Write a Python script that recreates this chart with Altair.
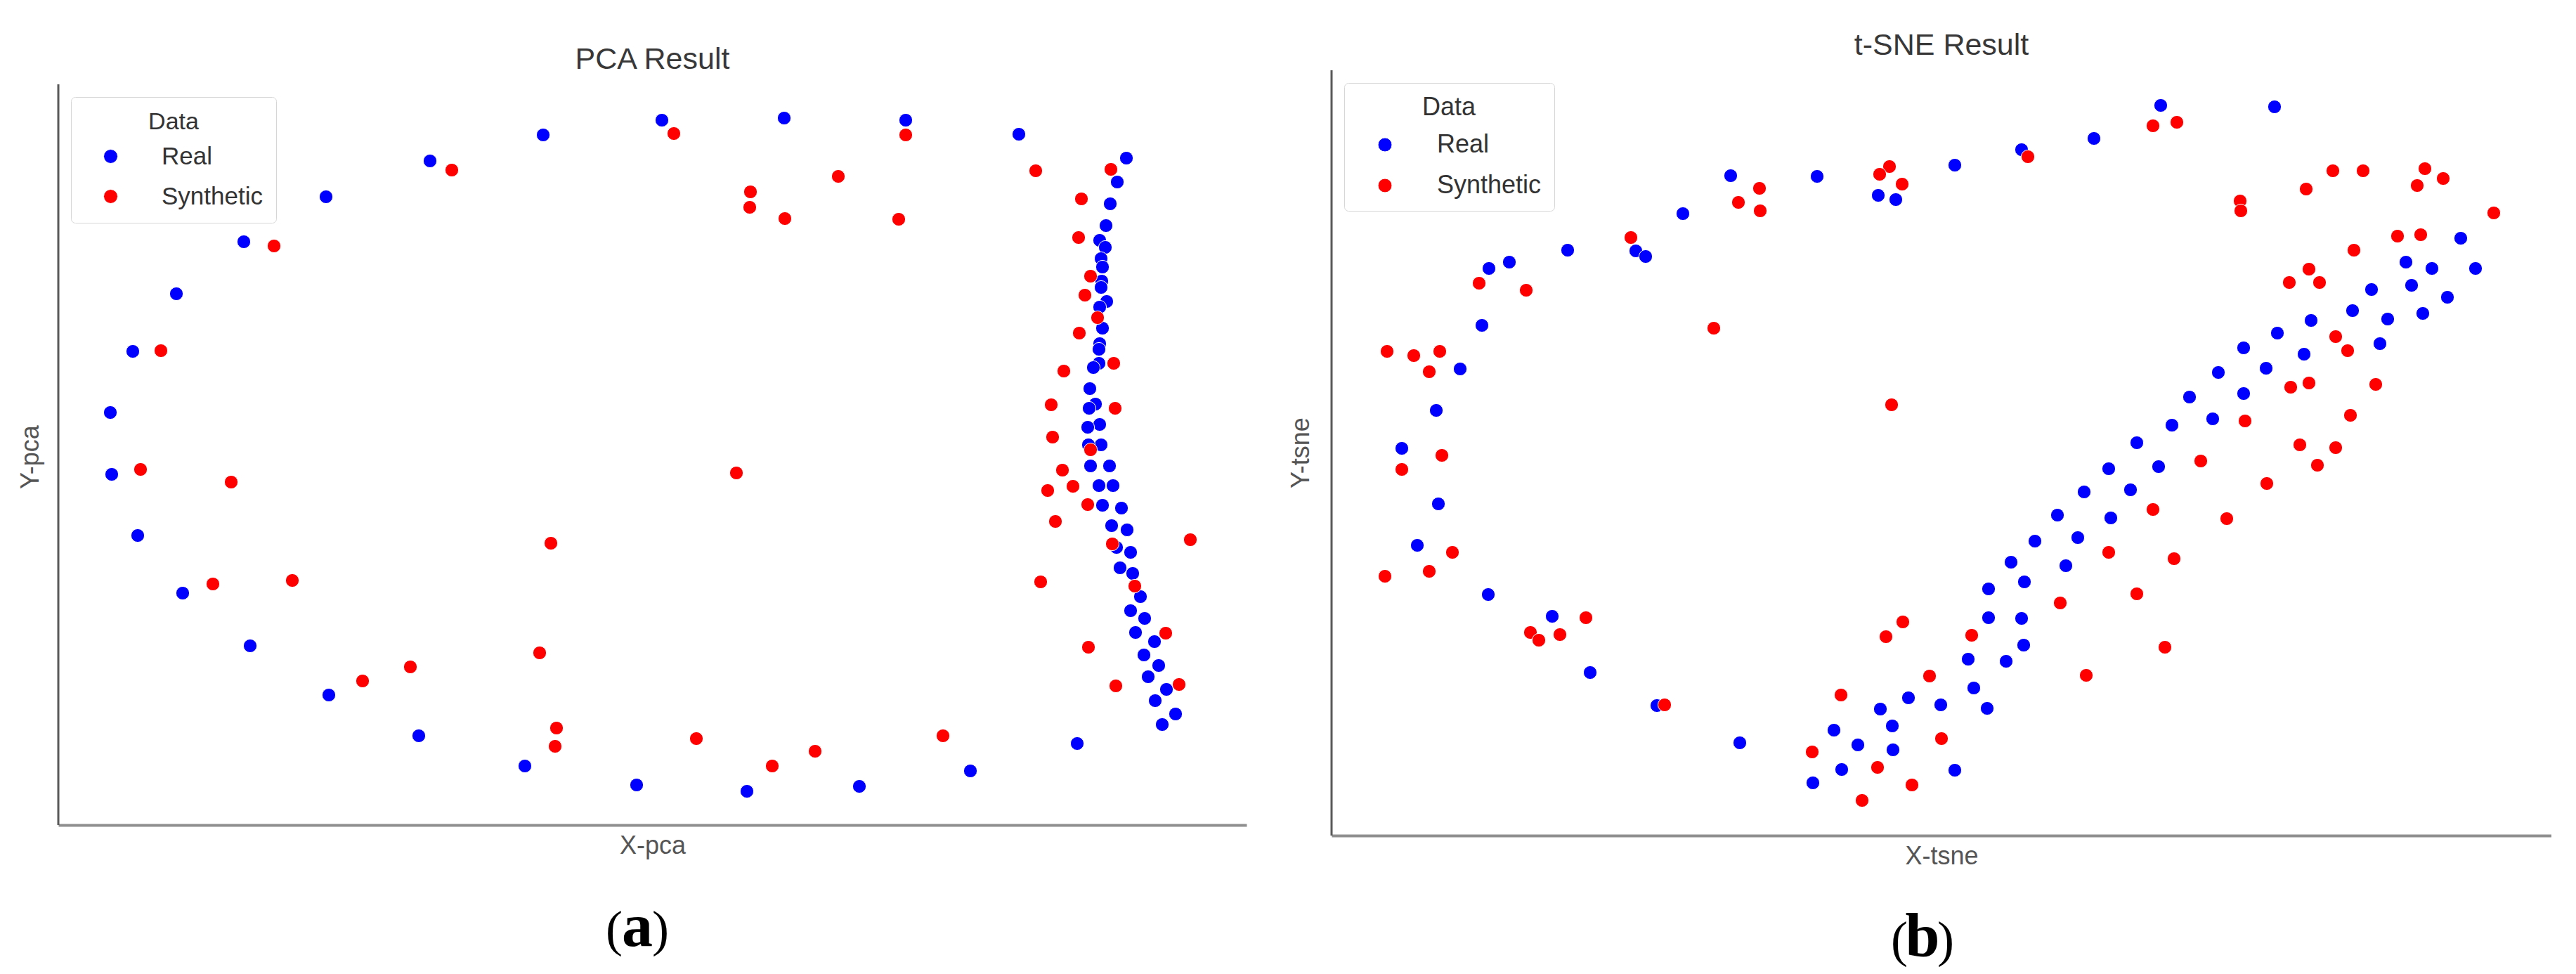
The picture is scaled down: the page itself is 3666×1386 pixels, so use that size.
import altair as alt
import pandas as pd

# ---------------- data (arbitrary units) ----------------
pca_real_x = [859, 690, 529, 381, 264, 168, 106, 74, 76, 113, 177, 273, 385, 513, 664, 823, 980, 1140, 1298, 1450,
              1033, 1206, 1367, 1520, 1507, 1497, 1491, 1482, 1490, 1484, 1486, 1485, 1484, 1492, 1482, 1486, 1482,
              1481, 1481, 1473, 1468, 1476, 1467, 1482, 1465, 1484, 1466, 1469, 1496, 1481, 1501, 1486, 1513, 1499,
              1521, 1506, 1526, 1511, 1529, 1540, 1526, 1546, 1533, 1560, 1545, 1566, 1551, 1577, 1561, 1590, 1571]
pca_real_y = [1003, 982, 945, 894, 830, 756, 674, 587, 499, 412, 330, 255, 185, 127, 84, 57, 48, 55, 77, 116,
              1006, 1003, 983, 949, 915, 884, 853, 832, 822, 806, 794, 774, 765, 745, 737, 707, 685,
              677, 657, 651, 621, 599, 593, 570, 566, 541, 541, 511, 511, 483, 483, 455, 451, 426,
              420, 395, 388, 366, 358, 325, 305, 294, 274, 261, 242, 227, 211, 193, 177, 158, 143]
pca_syn_x = [560, 307, 146, 117, 246, 876, 1206, 1110, 1391, 1498, 985, 984, 1034, 1196, 1456, 1452, 1469, 1461,
             1479, 1453, 1502, 1431, 1413, 1504, 1415, 1469, 1429, 965, 1444, 1408, 1465, 1419, 1500, 1611, 1398,
             1532, 1576, 1466, 1505, 1595, 701, 220, 333, 685, 501, 433, 709, 707, 908, 1077, 1016, 1259]
pca_syn_y = [932, 824, 675, 506, 488, 984, 982, 923, 931, 933, 901, 879, 863, 862, 891, 836, 781, 754,
             722, 700, 657, 646, 598, 593, 552, 534, 505, 501, 482, 476, 456, 432, 400, 406, 346,
             340, 273, 253, 198, 200, 401, 343, 348, 245, 225, 205, 138, 112, 123, 105, 84, 127]

tsne_real_x = [568, 691, 778, 803, 500, 336, 433, 447, 253, 224, 214, 183, 149, 100, 1180, 1342, 1085, 982, 887,
               1607, 1529, 1566, 1628, 1537, 1480, 1588, 1453, 1553, 1394, 1503, 1346, 1492, 1298, 1384, 1330,
               1262, 1221, 1298, 1254, 1196, 1146, 1106, 1177, 1071, 1137, 1033, 1109, 1001, 1062, 967, 1045,
               935, 986, 935, 982, 985, 906, 960, 914, 933, 887, 821, 867, 781, 798, 715, 749, 799, 726, 685,
               152, 122, 223, 314, 368, 463, 581]
tsne_real_y = [939, 938, 911, 905, 885, 833, 832, 824, 816, 807, 726, 664, 605, 551, 1039, 1037, 992, 976, 954,
               850, 816, 807, 807, 783, 777, 766, 747, 743, 733, 735, 715, 700, 694, 685, 665,
               659, 624, 629, 593, 584, 559, 522, 525, 489, 492, 456, 452, 419, 424, 389, 384,
               351, 361, 310, 309, 271, 251, 248, 210, 181, 93, 196, 186, 180, 156, 150, 129, 122, 94, 75,
               472, 413, 343, 312, 232, 185, 132]
tsne_syn_x = [794, 780, 812, 609, 579, 610, 426, 210, 277, 544, 79, 117, 154, 139, 797, 157, 100, 1169, 1203, 991,
              1425, 1468, 1556, 1582, 1545, 1387, 1293, 1294, 1654, 1517, 1550, 1455, 1391, 1363, 1406, 1429,
              1446, 1365, 1391, 1486, 1450, 1300, 1378, 1429, 1237, 1403, 1331, 1169, 1274, 1106, 1199, 1146,
              1037, 911, 1186, 1074, 851, 813, 789, 725, 868, 684, 777, 826, 755, 172, 76, 139, 362, 283,
              295, 325, 474]
tsne_syn_y = [952, 941, 927, 921, 901, 889, 851, 786, 776, 722, 689, 683, 689, 660, 613, 541, 521, 1010, 1015, 966,
              946, 946, 949, 935, 925, 920, 903, 889, 886, 853, 855, 833, 806, 787, 787, 710,
              690, 638, 644, 642, 598, 590, 556, 552, 533, 527, 501, 464, 451, 403, 394, 344,
              331, 285, 268, 228, 227, 304, 283, 200, 138, 119, 97, 72, 50, 403, 369, 376, 310, 289,
              278, 286, 186]

categories = ["Real", "Synthetic"]
palette = ["#0000ff", "#ff0000"]

FONT = "Liberation Sans"
SERIF = "Liberation Serif"


def frame(rx, ry, sx, sy):
    return pd.DataFrame({
        "x": rx + sx,
        "y": ry + sy,
        "Data": [categories[0]] * len(rx) + [categories[1]] * len(sx),
    })


def one(text):
    return pd.DataFrame({"t": [text]})


def panel(df, w, h, xtitle, ytitle, title, title_y, letter, letter_x, spine_top,
          ytitle_pad, ytitle_y, leg):
    points = alt.Chart(df).mark_circle(size=370, opacity=1, stroke="white", strokeWidth=1).encode(
        x=alt.X("x:Q", scale=alt.Scale(domain=[0, w], nice=False, zero=False),
                axis=alt.Axis(title=xtitle, ticks=False, labels=False, grid=False,
                              domainColor="#8f8f8f", domainWidth=4,
                              titleFont=FONT, titleFontSize=36, titleFontWeight="normal",
                              titleColor="#555555", titlePadding=12)),
        y=alt.Y("y:Q", scale=alt.Scale(domain=[0, h], nice=False, zero=False),
                axis=alt.Axis(title=ytitle, ticks=False, labels=False, grid=False, domain=False,
                              titleFont=FONT, titleFontSize=36, titleFontWeight="normal",
                              titleColor="#555555", titlePadding=ytitle_pad, titleY=ytitle_y)),
        color=alt.Color("Data:N", scale=alt.Scale(domain=categories, range=palette),
                        legend=alt.Legend(**leg)),
        order=alt.Order("order:Q"),
    ).transform_calculate(order="datum.Data === 'Real' ? 0 : 1")

    spine = alt.Chart(one("s")).mark_rule(color="#595959", strokeWidth=3).encode(
        x=alt.value(0), y=alt.value(spine_top), y2=alt.value(h))

    ttl = alt.Chart(one(title)).mark_text(font=FONT, fontSize=43, color="#383838",
                                          baseline="middle", align="center").encode(
        text="t:N", x=alt.value(w / 2), y=alt.value(title_y))

    base_y = h + 172
    lp = alt.Chart(one("(")).mark_text(font=SERIF, fontSize=72, color="black",
                                       baseline="alphabetic", align="right").encode(
        text="t:N", x=alt.value(letter_x - 21), y=alt.value(base_y))
    lc = alt.Chart(one(letter)).mark_text(font=SERIF, fontSize=88, fontWeight="bold", color="black",
                                          baseline="alphabetic", align="center").encode(
        text="t:N", x=alt.value(letter_x), y=alt.value(base_y))
    rp = alt.Chart(one(")")).mark_text(font=SERIF, fontSize=72, color="black",
                                       baseline="alphabetic", align="left").encode(
        text="t:N", x=alt.value(letter_x + 21), y=alt.value(base_y))

    return alt.layer(points, spine, ttl, lp, lc, rp).properties(width=w, height=h)


leg_common = dict(orient="none", title="Data", titleAnchor="middle", titleFont=FONT, labelFont=FONT,
                  titleFontWeight="normal", titleColor="#333333", labelColor="#333333",
                  strokeColor="#d6d6d6", fillColor="white", cornerRadius=6,
                  symbolType="circle", symbolSize=400, symbolStrokeColor="white", symbolStrokeWidth=1)

leg_a = dict(leg_common, legendX=18, legendY=38, titleFontSize=34, labelFontSize=35, padding=19,
             symbolOffset=20, labelOffset=55, rowPadding=21, titlePadding=14)
leg_b = dict(leg_common, legendX=18, legendY=18, titleFontSize=36, labelFontSize=36, padding=18,
             symbolOffset=22, labelOffset=56, rowPadding=22, titlePadding=16)

chart_a = panel(frame(pca_real_x, pca_real_y, pca_syn_x, pca_syn_y), 1691, 1074,
                "X-pca", "Y-pca", "PCA Result", -15, "a", 824, 20, 21, 550, leg_a)
chart_b = panel(frame(tsne_real_x, tsne_real_y, tsne_syn_x, tsne_syn_y), 1736, 1089,
                "X-tsne", "Y-tsne", "t-SNE Result", -35, "b", 841, 0, 25, 544, leg_b)

chart = alt.hconcat(chart_a, chart_b, spacing=59).properties(
    padding={"left": 17, "top": 36, "right": 0, "bottom": 0}
).configure_view(stroke=None).resolve_scale(color="independent")

chart.save("out.html", embed_options={"renderer": "svg", "actions": False})
